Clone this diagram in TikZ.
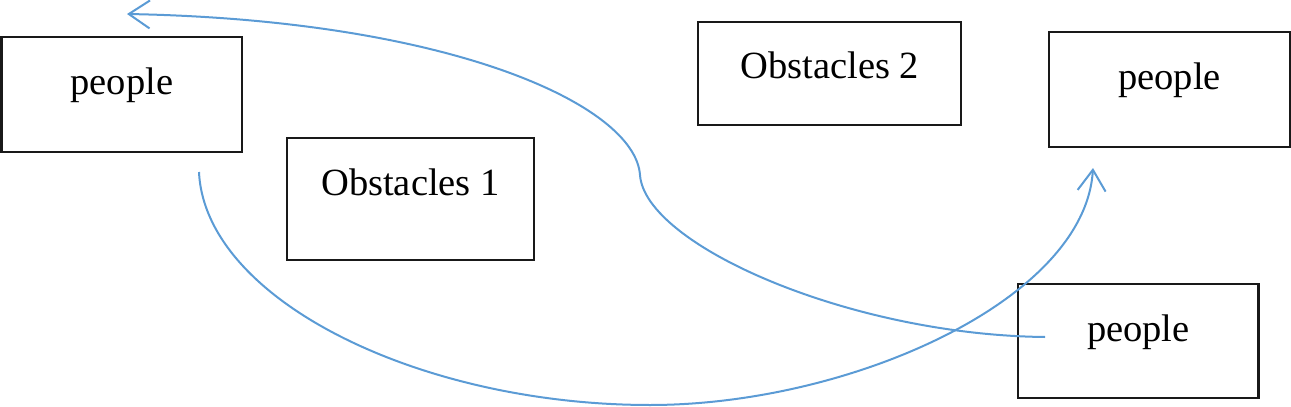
\documentclass[tikz,border=0pt]{standalone}
\usepackage{fontspec}
\setmainfont{Liberation Serif}
\usetikzlibrary{arrows.meta}
\definecolor{curveBlue}{RGB}{91,155,213}
\colorlet{boxColor}{black!90}

\begin{document}
\begin{tikzpicture}[x=0.5pt,y=-0.5pt,
  box/.style={draw=boxColor,line width=1.1pt,inner sep=0pt,text height=28.5pt,
    font=\fontsize{19.25}{23}\selectfont},
  people/.style={box,minimum width=120.2pt},
  route/.style={curveBlue,line width=1pt,-{Straight Barb[length=10.5pt,width=14pt]}}]
\useasboundingbox (0,0) rectangle (1291,407);
\node[people,text depth=28.85pt] (peopleLeft) at (121.8,94.7) {people};
\node[box,minimum width=123.8pt,text depth=32.35pt] (obstOne) at (410.5,199.2) {Obstacles 1};
\node[box,minimum width=131.35pt,text depth=23.15pt] (obstTwo) at (829.7,73.3) {Obstacles 2};
\node[people,text depth=28.7pt] (peopleTop) at (1169.5,89.5) {people};
\node[people,text depth=28.5pt] (peopleBottom) at (1138.3,341) {people};
\coordinate (leaveLeft) at (199,172);
\coordinate (reachTop) at (1093,168);
\coordinate (leaveBottom) at (1045,337);
\coordinate (reachLeft) at (127,14);
\draw[route] (leaveLeft) .. controls (205,300) and (420,405) .. (650,405) 
  .. controls (850,405) and (1085,300) .. (reachTop);
\draw[route] (leaveBottom) .. controls (850,335) and (645,245) .. (640,175) 
  .. controls (635,105) and (450,20) .. (reachLeft);
\end{tikzpicture}
\end{document}
